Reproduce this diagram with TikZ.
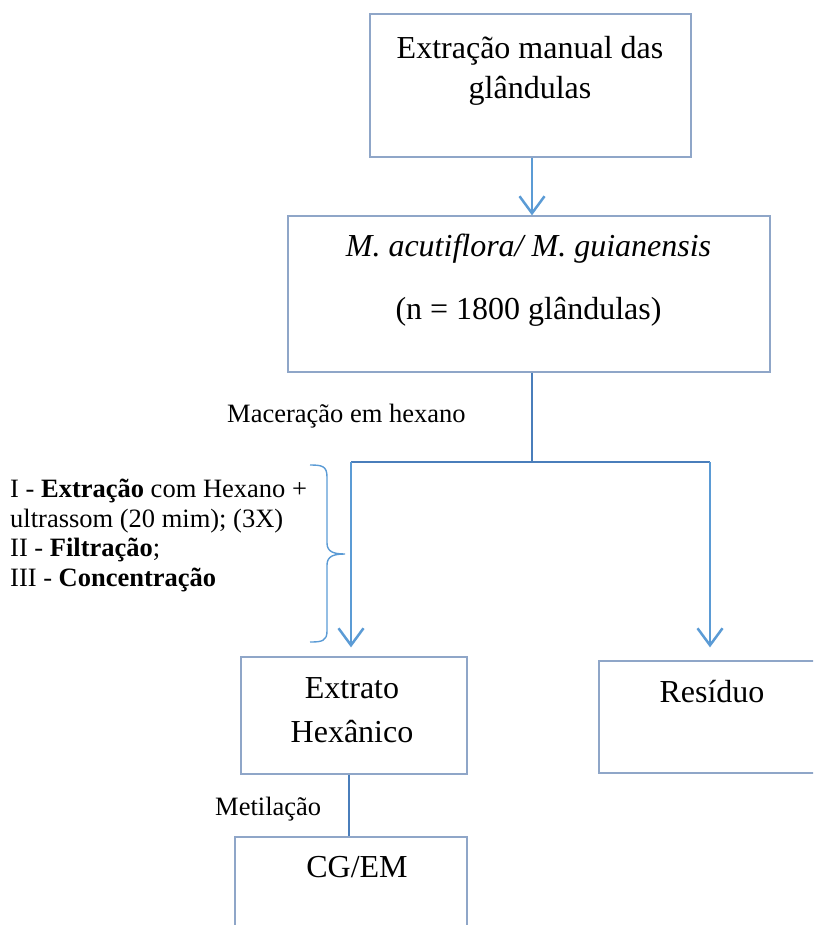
\documentclass[tikz,border=0pt]{standalone}
\usepackage{fontspec}
\setmainfont{Liberation Serif}
\usetikzlibrary{arrows.meta,positioning}
\definecolor{boxline}{HTML}{8FA6C8}
\definecolor{linkline}{HTML}{4A7EBB}
\definecolor{arrowline}{HTML}{5B9BD5}

\begin{document}
\begin{tikzpicture}[x=1pt, y=-1pt,
  box/.style={draw=boxline, line width=1.3pt, inner sep=0pt},
  boxtext/.style={inner sep=0pt, align=center, font=\fontsize{32}{40}\selectfont},
  note/.style={inner sep=0pt, font=\fontsize{26.5}{29.5}\selectfont},
  link/.style={draw=linkline, line width=2.2pt},
  edge/.style={draw=arrowline, line width=2.5pt, -{Straight Barb[length=17pt,width=25pt]}},
  curly/.style={draw=arrowline, line width=1.4pt}
]
\useasboundingbox (0,0) rectangle (813,925);
\clip (0,0) rectangle (813,925);

\node[box, minimum width=321pt, minimum height=143pt] (manual) at (530.5,85.5) {};
\node[box, minimum width=482pt, minimum height=156pt] (species) at (529,294) {};
\node[box, minimum width=226pt, minimum height=117pt] (extract) at (354,715.5) {};
\node[box, minimum width=231pt, minimum height=112pt] (residue) at (714.5,717) {};
\node[box, minimum width=232pt, minimum height=150pt] (gcms) at (351,912) {};

\node[boxtext, anchor=north] (manualtext) at (530,36) {Extração manual das\\glândulas};
\node[boxtext, anchor=north] (speciestext) at (528.5,234) {\textit{M. acutiflora/ M. guianensis}\\[23pt](n = 1800 glândulas)};
\node[boxtext, anchor=north] (extracttext) at (352,677) {Extrato\\[4pt]Hexânico};
\node[boxtext, anchor=base] (residuetext) at (712,702) {Resíduo};
\node[boxtext, anchor=base] (gcmstext) at (357,877) {CG/EM};

\node[note, anchor=base west] (maceration) at (227,422) {Maceração em hexano};
\node[note, anchor=base west] (methylation) at (215,815) {Metilação};
\node[note, anchor=north west, align=left] (steps) at (10,479) {I - \textbf{Extração} com Hexano +\\ultrassom (20 mim); (3X)\\II - \textbf{Filtração};\\III - \textbf{Concentração}};

\coordinate (split) at (532,462);
\coordinate (splitL) at (351,462);
\coordinate (splitR) at (710,462);

\draw[edge] ([xshift=1.5pt]manual.south) -- ([xshift=1.5pt]manual.south |- species.north);
\draw[link] (split |- species.south) -- (split);
\draw[link] (splitL) -- (splitR);
\draw[edge, shorten >=9pt] (splitL) -- (splitL |- extract.north);
\draw[edge, shorten >=13pt] (splitR) -- (splitR |- residue.north);
\draw[link] ([xshift=-5pt]extract.south) -- ([xshift=-5pt]extract.south |- gcms.north);

\draw[curly] (310,465) .. controls (322,465) and (327,466) .. (327,477) -- (327,543)
  .. controls (327,552) and (334,554) .. (345,554)
  .. controls (334,554) and (327,556) .. (327,565) -- (327,631)
  .. controls (327,641) and (322,642) .. (310,642);
\end{tikzpicture}
\end{document}
